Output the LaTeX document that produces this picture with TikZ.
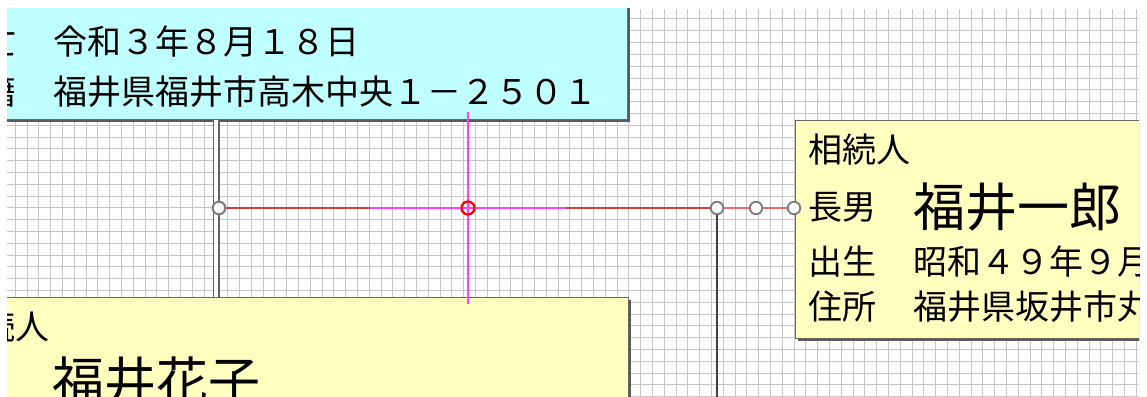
\documentclass[tikz,border=0pt]{standalone}
\usepackage{fontspec}
\newfontfamily\jp{Noto Sans CJK JP}
\usetikzlibrary{shadows,calc}
\definecolor{boxcyan}{RGB}{192,255,255}
\definecolor{boxyellow}{RGB}{255,255,192}
\definecolor{gridgray}{RGB}{198,198,198}
\definecolor{linered}{RGB}{215,60,60}
\definecolor{linepink}{RGB}{240,105,105}
\definecolor{guidemag}{RGB}{255,64,255}
\tikzset{
  gridline/.style={draw=gridgray, line width=1pt},
  famcard/.style={rectangle, draw=black!60, line width=0.8pt, anchor=north west, inner sep=0pt,
    drop shadow={shadow xshift=2.5pt, shadow yshift=-2.5pt, fill=black!65, opacity=1}},
  lbl/.style={font=\jp\fontsize{34}{40}\selectfont, anchor=west, inner sep=0pt},
  bigname/.style={font=\jp\fontsize{52}{60}\selectfont, anchor=west, inner sep=0pt},
  jct/.style={circle, draw=black!50, fill=white, line width=1.9pt, minimum size=12.5pt, inner sep=0pt},
  selcircle/.style={circle, draw=red, line width=2pt, minimum size=13pt, inner sep=0pt},
  dbl/.style={draw=black!62, line width=1.3pt, double=white, double distance=4.4pt},
  redline/.style={draw=linered, line width=1.3pt},
  pinkline/.style={draw=linepink, line width=1.3pt},
  guide/.style={draw=guidemag, line width=1.4pt},
  childline/.style={draw=black!75, line width=1.3pt}
}
\begin{document}
\begin{tikzpicture}[x=1pt,y=-1pt]
\useasboundingbox (0,0) rectangle (1147,396);
\fill[white] (0,0) rectangle (1147,396);
\begin{scope}
\clip (7,9) rectangle (1139,396);
% grid
\foreach \i in {0,...,96} \draw[gridline] ({15.3+11.8*\i},9) -- ({15.3+11.8*\i},396);
\foreach \j in {0,...,32} \draw[gridline] (7,{19+11.8*\j}) -- (1139,{19+11.8*\j});
% cards
\node[famcard, fill=boxcyan, minimum width=692pt, minimum height=220pt] (dec) at (-65,-101) {};
\node[famcard, fill=boxyellow, minimum width=420pt, minimum height=218pt] (son) at (795,120) {};
\node[famcard, fill=boxyellow, minimum width=694pt, minimum height=160pt] (wife) at (-66,297) {};
% junctions
\coordinate (mar) at (216,208);
\coordinate (bot) at (717,400);
\node[jct] (c1) at (219,208) {};
\node[jct] (c2) at (717,208) {};
\node[jct] (c3) at (756,208) {};
\node[jct] (c4) at (794,208) {};
\node[selcircle] (x) at (468,208) {};
% connectors
\draw[dbl] (mar |- dec.south) -- (mar |- wife.north);
\draw[redline] (c1) -- (c2);
\draw[pinkline] (c2) -- (c3);
\draw[pinkline] (c3) -- (c4);
\draw[childline] (c2) -- (bot);
\draw[guide] ([xshift=-98pt]x.center) -- ([xshift=98pt]x.center);
\draw[guide] ([yshift=96pt]x.center) -- ([yshift=-96pt]x.center);
\node[selcircle] at (x) {};
\node[jct] at (c1) {};
% texts: deceased card
\node[lbl] (d1) at (-52,42) {死亡};
\node[lbl] (d2) at (53,42) {令和３年８月１８日};
\node[lbl] (d3) at (-52,92) {本籍};
\node[lbl] (d4) at (53,92) {福井県福井市高木中央１－２５０１};
% son card
\node[lbl] (s0) at (808,150) {相続人};
\node[lbl] (s1) at (808,207) {長男};
\node[bigname] (s2) at (913,207) {福井一郎};
\node[lbl] (s3) at (808,262) {出生};
\node[lbl] (s4) at (913,262) {昭和４９年９月};
\node[lbl] (s5) at (808,307) {住所};
\node[lbl] (s6) at (913,307) {福井県坂井市丸};
% wife card
\node[lbl] (w0) at (-53,327) {相続人};
\node[bigname] (w1) at (52,381) {福井花子};
\end{scope}
\end{tikzpicture}
\end{document}
